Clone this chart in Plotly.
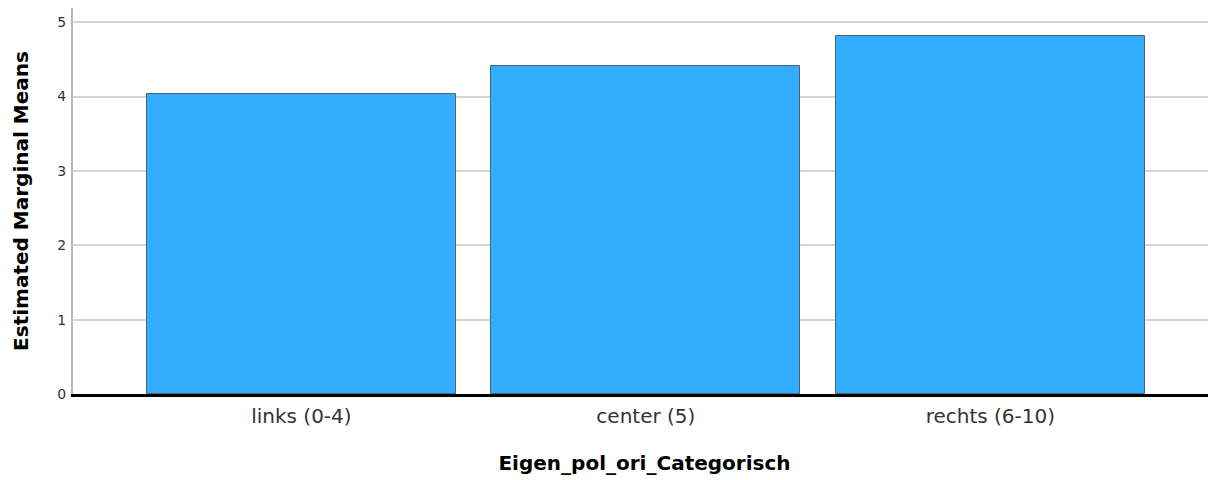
import plotly.graph_objects as go

categories = ["links (0-4)", "center (5)", "rechts (6-10)"]
means = [4.03, 4.41, 4.82]
y_ticks = [0, 1, 2, 3, 4, 5]

fig = go.Figure()
fig.add_trace(go.Bar(
    x=[0, 1, 2], y=means, width=0.897,
    marker=dict(color="#33adff", line=dict(color="#4f6070", width=1)),
    hoverinfo="skip",
))

fig.update_layout(
    width=1208, height=472,
    margin=dict(l=65, r=0, t=0, b=86),
    paper_bgcolor="white", plot_bgcolor="white",
    font=dict(family="DejaVu Sans, Liberation Sans, Arial, sans-serif", color="#333333"),
    showlegend=False,
    bargap=0,
    xaxis=dict(
        range=[-0.663, 2.655],
        tickmode="array", tickvals=[0, 1, 2], ticktext=categories,
        tickfont=dict(size=20, color="#333333"),
        showgrid=False, zeroline=False,
        showline=True, linecolor="black", linewidth=3,
        ticks="outside", ticklen=2, tickcolor="rgba(0,0,0,0)",
        title=dict(text="<b>Eigen_pol_ori_Categorisch</b>", font=dict(size=20, color="black"), standoff=29),
        automargin=False,
    ),
    yaxis=dict(
        range=[0, 5.19],
        tickmode="array", tickvals=y_ticks, ticktext=[str(v) for v in y_ticks],
        tickfont=dict(size=14, color="#333333"),
        showgrid=True, gridcolor="#d4d4d4", gridwidth=1.5,
        zeroline=False,
        showline=True, linecolor="#b8b8b8", linewidth=2,
        ticks="outside", ticklen=2, tickcolor="rgba(0,0,0,0)",
        title=dict(text="<b>Estimated Marginal Means</b>", font=dict(size=20, color="black"), standoff=23),
        automargin=False,
    ),
)

fig.write_html("out.html")
